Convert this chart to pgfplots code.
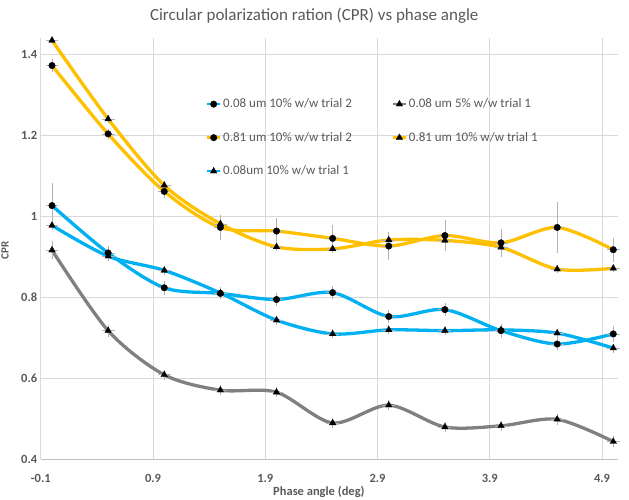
\documentclass[border=0pt]{standalone}
\usepackage{pgfplots}
\usepackage{pgfplotstable}
\pgfplotsset{compat=1.18}
\usepackage{fontspec}
\setmainfont{Carlito}
\definecolor{cblue}{HTML}{00B0F0}
\definecolor{cgold}{HTML}{FFC000}
\definecolor{cgray}{HTML}{808080}
\definecolor{ctext}{HTML}{595959}
\definecolor{cgrid}{HTML}{D9D9D9}
\definecolor{caxis}{HTML}{BFBFBF}

\pgfplotstableread{
x y ey
0 1.026 0.05
0.5 0.909 0.012
1.0 0.823 0.012
1.5 0.809 0.010
2.0 0.794 0.012
2.5 0.811 0.012
3.0 0.752 0.010
3.5 0.769 0.012
4.0 0.717 0.012
4.5 0.684 0.010
5.0 0.709 0.015
}\blueC
\pgfplotstableread{
x y ey
0 0.916 0.018
0.5 0.717 0.010
1.0 0.608 0.008
1.5 0.570 0.008
2.0 0.565 0.008
2.5 0.489 0.008
3.0 0.533 0.008
3.5 0.479 0.008
4.0 0.482 0.008
4.5 0.498 0.008
5.0 0.443 0.008
}\grayT
\pgfplotstableread{
x y ey
0 1.372 0.010
0.5 1.203 0.008
1.0 1.061 0.012
1.5 0.972 0.027
2.0 0.963 0.028
2.5 0.945 0.027
3.0 0.926 0.030
3.5 0.952 0.033
4.0 0.934 0.030
4.5 0.972 0.057
5.0 0.917 0.025
}\goldC
\pgfplotstableread{
x y ey
0 1.434 0.005
0.5 1.240 0.005
1.0 1.076 0.005
1.5 0.981 0.005
2.0 0.924 0.005
2.5 0.919 0.005
3.0 0.941 0.005
3.5 0.940 0.005
4.0 0.923 0.005
4.5 0.869 0.005
5.0 0.871 0.005
}\goldT
\pgfplotstableread{
x y ey
0 0.977 0.006
0.5 0.901 0.006
1.0 0.866 0.006
1.5 0.810 0.006
2.0 0.743 0.006
2.5 0.709 0.006
3.0 0.719 0.006
3.5 0.717 0.006
4.0 0.719 0.006
4.5 0.711 0.006
5.0 0.674 0.006
}\blueT

\begin{document}
\begin{tikzpicture}
\useasboundingbox (-52pt,-41pt) rectangle (577pt,459pt);
\begin{axis}[
  at={(0pt,0pt)}, anchor=origin,
  scale only axis, width=577pt, height=421pt,
  xmin=-0.1, xmax=5.04, ymin=0.4, ymax=1.44,
  clip=false,
  xtick={-0.1,0.9,1.9,2.9,3.9,4.9},
  xticklabels={-0.1,0.9,1.9,2.9,3.9,4.9},
  ytick={0.4,0.6,0.8,1.0,1.2,1.4},
  yticklabels={0.4,0.6,0.8,1,1.2,1.4},
  major tick length=0pt,
  grid=major,
  major grid style={cgrid, line width=0.8pt},
  axis x line*=bottom, axis y line*=left,
  x axis line style={caxis, line width=0.8pt, -},
  y axis line style={cgrid, line width=0.8pt, -},
  tick label style={font=\fontsize{12.5}{14}\selectfont\bfseries, text=ctext},
  xticklabel style={yshift=-12pt},
  title={Circular polarization ration (CPR) vs phase angle},
  title style={font=\fontsize{17}{20}\selectfont, text=ctext, at={(axis description cs:0.474,1.038)}, anchor=center},
  xlabel={Phase angle (deg)},
  xlabel style={font=\fontsize{12.5}{14}\selectfont\bfseries, text=ctext, at={(axis description cs:0.482,-0.078)}, anchor=center},
  ylabel={CPR},
  ylabel style={font=\fontsize{11}{13}\selectfont\bfseries, text=ctext, at={(axis description cs:-0.062,0.496)}, anchor=center},
  legend columns=2,
  legend cell align=left,
  legend style={draw=none, fill=none, at={(axis cs:1.345,1.30)}, anchor=north west,
    font=\fontsize{13}{15}\selectfont, text=ctext, row sep=19pt,
    /tikz/every even column/.append style={column sep=38pt},
    /tikz/every odd column/.append style={column sep=0pt}},
  legend image code/.code={\draw[#1, line width=2.5pt, mark repeat=2, mark phase=2] plot coordinates {(0cm,0cm) (0.22cm,0cm) (0.44cm,0cm)};},
  every axis plot/.append style={smooth, line width=3.3pt},
  error bars/y dir=both, error bars/y explicit,
  error bars/x dir=both, error bars/x fixed=0.04,
  error bars/error bar style={line width=0.6pt, draw=gray!60, solid},
  error bars/error mark options={line width=0.6pt, draw=gray!60, mark size=2pt},
]
\addplot[cblue, mark=*, mark size=3.3pt, mark options={fill=black, draw=black, line width=0.3pt}] table[x=x, y=y, y error=ey] {\blueC};
\addlegendentry{0.08 um 10\% w/w trial 2}
\addplot[cgray, mark=triangle*, mark size=3.8pt, mark options={fill=black, draw=black, line width=0.3pt}] table[x=x, y=y, y error=ey] {\grayT};
\addlegendentry{0.08 um 5\% w/w trial 1}
\addplot[cgold, mark=*, mark size=3.3pt, mark options={fill=black, draw=black, line width=0.3pt}] table[x=x, y=y, y error=ey] {\goldC};
\addlegendentry{0.81 um 10\% w/w trial 2}
\addplot[cgold, mark=triangle*, mark size=3.8pt, mark options={fill=black, draw=black, line width=0.3pt}] table[x=x, y=y, y error=ey] {\goldT};
\addlegendentry{0.81 um 10\% w/w trial 1}
\addplot[cblue, mark=triangle*, mark size=3.8pt, mark options={fill=black, draw=black, line width=0.3pt}] table[x=x, y=y, y error=ey] {\blueT};
\addlegendentry{0.08um 10\% w/w trial 1}
\end{axis}
\end{tikzpicture}
\end{document}
